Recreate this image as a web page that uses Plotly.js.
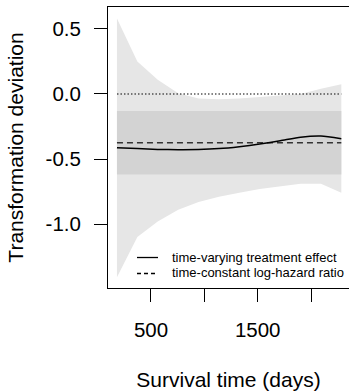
<!DOCTYPE html>
<html>
<head>
<meta charset="utf-8">
<script src="https://cdn.plot.ly/plotly-3.0.1.min.js"></script>
<style>html,body{margin:0;padding:0;background:#fff;}#chart{width:349px;height:391px;}</style>
</head>
<body>
<div id="chart"></div>
<script>
// Survival time grid (days)
const time = [181, 372, 563, 755, 946, 1137, 1328, 1519, 1711, 1902, 2093, 2284];
// Time-varying treatment effect (solid line)
const effect = [-0.413, -0.420, -0.426, -0.428, -0.427, -0.420, -0.405, -0.385, -0.360, -0.332, -0.323, -0.344];
// Pointwise band for the time-varying effect (light grey)
const bandUpper = [0.58, 0.25, 0.11, 0.005, -0.035, -0.04, -0.035, -0.025, -0.01, 0.0, 0.04, 0.075];
const bandLower = [-1.41, -1.10, -0.98, -0.89, -0.83, -0.79, -0.76, -0.73, -0.71, -0.69, -0.69, -0.76];
// Time-constant log-hazard ratio and its interval (dark grey)
const constEffect = -0.375;
const constLower = -0.62;
const constUpper = -0.131;
const reference = 0;
// Tick labels
const xTickVals = [500, 1000, 1500, 2000];
const xTickText = ["500", "", "1500", ""];
const yTickVals = [0.5, 0.0, -0.5, -1.0];
const yTickText = ["0.5", "0.0", "-0.5", "-1.0"];
const legendLabels = ["time-varying treatment effect", "time-constant log-hazard ratio"];

const FONT = "Liberation Sans, Arial, Helvetica, sans-serif";
const tFirst = time[0], tLast = time[time.length - 1];

const traces = [
  {x: time.concat(time.slice().reverse()), y: bandUpper.concat(bandLower.slice().reverse()),
   fill: 'toself', fillcolor: '#e6e6e6', line: {width: 0}, mode: 'lines', hoverinfo: 'skip', showlegend: false},
  {x: [tFirst, tLast, tLast, tFirst], y: [constUpper, constUpper, constLower, constLower],
   fill: 'toself', fillcolor: '#d3d3d3', line: {width: 0}, mode: 'lines', hoverinfo: 'skip', showlegend: false},
  {x: [tFirst, tLast], y: [reference, reference], mode: 'lines',
   line: {color: '#000', width: 1.2, dash: '1.5px,2px'}, showlegend: false},
  {x: [tFirst, tLast], y: [constEffect, constEffect], mode: 'lines',
   line: {color: '#333', width: 1.7, dash: '6px,4px'}, showlegend: false},
  {x: time, y: effect, mode: 'lines', line: {color: '#000', width: 1.5, shape: 'spline', smoothing: 0.6}, showlegend: false}
];

const layout = {
  width: 349, height: 391,
  margin: {l: 108, r: 0, t: 7, b: 103},
  paper_bgcolor: '#fff', plot_bgcolor: '#fff',
  showlegend: false,
  font: {family: FONT, color: '#000'},
  xaxis: {
    range: [97, 2356], tickmode: 'array', tickvals: xTickVals, ticktext: xTickText,
    showgrid: false, zeroline: false, showline: true, mirror: true, linecolor: '#000', linewidth: 1,
    ticks: 'outside', ticklen: 13, tickwidth: 1, tickcolor: '#000',
    tickfont: {family: FONT, size: 20.5, color: '#000'}, ticklabelstandoff: 10,
    title: {text: 'Survival time (days)', font: {family: FONT, size: 21, color: '#000'}, standoff: 34}
  },
  yaxis: {
    range: [-1.492, 0.669], tickmode: 'array', tickvals: yTickVals, ticktext: yTickText,
    showgrid: false, zeroline: false, showline: true, mirror: false, linecolor: '#000', linewidth: 1,
    ticks: 'outside', ticklen: 13, tickwidth: 1, tickcolor: '#000',
    tickfont: {family: FONT, size: 20.5, color: '#000'}, ticklabelstandoff: 9,
    title: {text: 'Transformation deviation', font: {family: FONT, size: 21, color: '#000'}, standoff: 16}
  },
  shapes: [
    {type: 'line', xref: 'paper', yref: 'paper', x0: 0.1203, x1: 0.2075, y0: 0.1085, y1: 0.1085,
     line: {color: '#000', width: 1.3}},
    {type: 'line', xref: 'paper', yref: 'paper', x0: 0.1203, x1: 0.2075, y0: 0.0516, y1: 0.0516,
     line: {color: '#000', width: 1.3, dash: '4px,3px'}}
  ],
  annotations: [
    {xref: 'paper', yref: 'paper', x: 0.2573, y: 0.110, xanchor: 'left', yanchor: 'middle', showarrow: false,
     text: legendLabels[0], font: {family: FONT, size: 13, color: '#000'}},
    {xref: 'paper', yref: 'paper', x: 0.2573, y: 0.0552, xanchor: 'left', yanchor: 'middle', showarrow: false,
     text: legendLabels[1], font: {family: FONT, size: 13, color: '#000'}}
  ]
};

Plotly.newPlot('chart', traces, layout, {displayModeBar: false, staticPlot: true});
</script>
</body>
</html>
